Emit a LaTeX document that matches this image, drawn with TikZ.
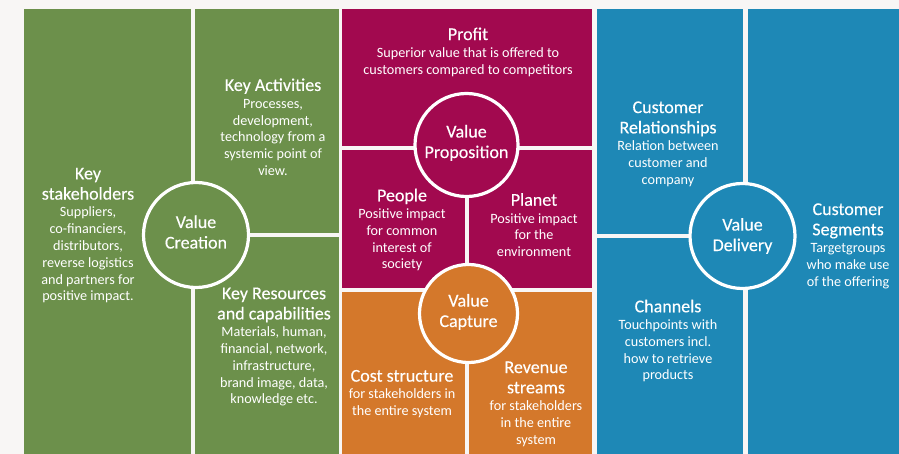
\documentclass[tikz,border=0pt]{standalone}
\usepackage{fontspec}
\setmainfont{Carlito}
\definecolor{grn}{HTML}{6C904B}
\definecolor{mag}{HTML}{A2094F}
\definecolor{org}{HTML}{D4782B}
\definecolor{blu}{HTML}{1E88B6}
\definecolor{bgc}{HTML}{F8F6F5}
\newfontfamily\ttlfont[FakeBold=0.25]{Carlito}
\newcommand{\ttl}[1]{{\ttlfont\fontsize{18}{18}\selectfont #1}}
\tikzset{
  x=1pt,y=-1pt,
  txt/.style={text=white,align=center,inner sep=0pt,font=\fontsize{14.2}{16.8}\selectfont},
  hub/.style={circle,draw=white,line width=3.2pt,minimum size=105pt,inner sep=0pt,text=white,align=center,font=\ttlfont\fontsize{18}{20.5}\selectfont},
}
\begin{document}
\begin{tikzpicture}
\useasboundingbox (0,0) rectangle (899,454);
\fill[bgc] (0,0) rectangle (899,454);
% panels
\fill[grn] (24,9) rectangle (191,454);
\fill[grn] (195,9) rectangle (339,233);
\fill[grn] (195,237) rectangle (339,454);
\fill[mag] (342,9) rectangle (592,146);
\fill[mag] (342,150) rectangle (465,288);
\fill[mag] (469,150) rectangle (592,288);
\fill[org] (342,292) rectangle (465,454);
\fill[org] (469,292) rectangle (592,454);
\fill[blu] (597,9) rectangle (743,234);
\fill[blu] (597,238) rectangle (743,454);
\fill[blu] (748,9) rectangle (899,454);
% hubs
\node[hub,fill=grn,text depth=6pt] (creation) at (196,235) {Value\\Creation};
\node[hub,fill=mag,minimum size=103pt,text depth=7pt] (proposition) at (466.5,145) {Value\\Proposition};
\node[hub,fill=org,minimum size=98pt,text depth=6pt] (capture) at (468.5,313.5) {Value\\Capture};
\node[hub,fill=blu] (delivery) at (742.5,236) {Value\\Delivery};
% texts
\node[txt] (stake) at (88,235.5) {\ttl{Key}\\[3.5pt]\ttl{stakeholders}\\[0.5pt]Suppliers,\\co-financiers,\\distributors,\\reverse logistics\\and partners for\\positive impact.};
\node[txt] (act) at (273,127) {\ttl{Key Activities}\\[0.5pt]Processes,\\development,\\technology from a\\systemic point of\\view.};
\node[txt] (res) at (274,347) {\ttl{Key Resources}\\[3.5pt]\ttl{and capabilities}\\[0.5pt]Materials, human,\\financial, network,\\infrastructure,\\brand image, data,\\knowledge etc.};
\node[txt] (profit) at (468,52) {\ttl{Profit}\\[0.5pt]Superior value that is offered to\\customers compared to competitors};
\node[txt] (people) at (402,230) {\ttl{People}\\[0.5pt]Positive impact\\for common\\interest of\\society};
\node[txt] (planet) at (534,225) {\ttl{Planet}\\[0.5pt]Positive impact\\for the\\environment};
\node[txt] (cost) at (402,394) {\ttl{Cost structure}\\[0.5pt]for stakeholders in\\the entire system};
\node[txt] (rev) at (536,404) {\ttl{Revenue}\\[3.5pt]\ttl{streams}\\[0.5pt]for stakeholders\\in the entire\\system};
\node[txt] (rel) at (668,144) {\ttl{Customer}\\[3.5pt]\ttl{Relationships}\\[0.5pt]Relation between\\customer and\\company};
\node[txt] (chan) at (668,341) {\ttl{Channels}\\[0.5pt]Touchpoints with\\customers incl.\\how to retrieve\\products};
\node[txt] (seg) at (848,246) {\ttl{Customer}\\[3.5pt]\ttl{Segments}\\[0.5pt]Targetgroups\\who make use\\of the offering};
\end{tikzpicture}
\end{document}
